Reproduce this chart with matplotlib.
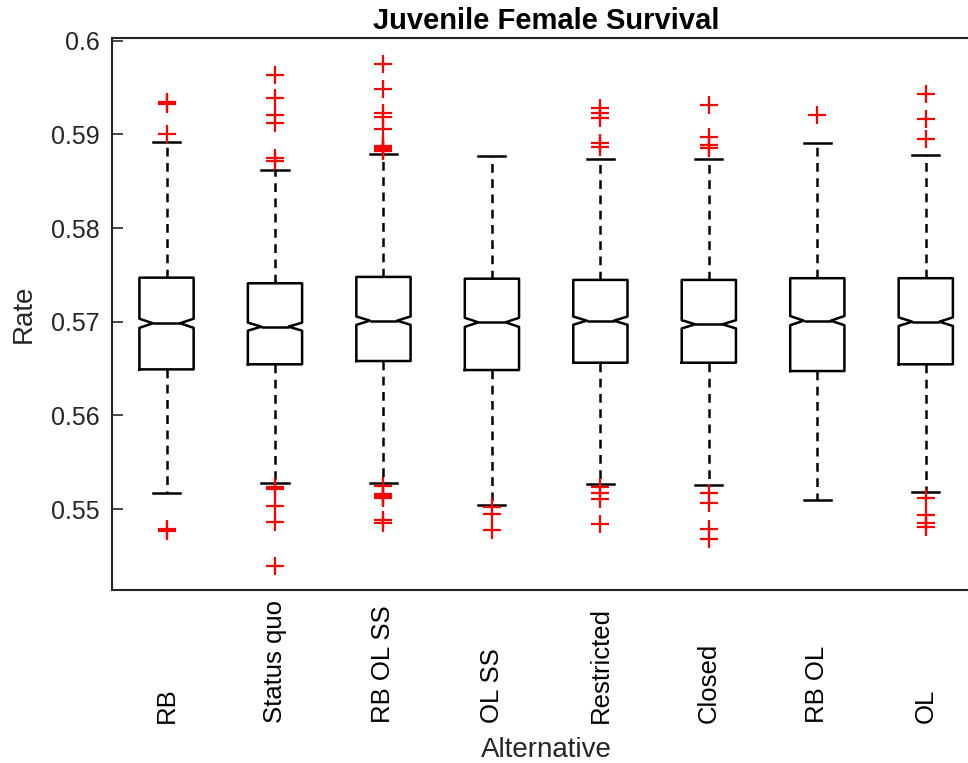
import matplotlib
matplotlib.use('Agg')
import matplotlib.pyplot as plt
import numpy as np

plt.rcParams['font.family'] = ['Liberation Sans', 'DejaVu Sans']

# simulated survival rate per alternative
alternatives = ['RB', 'Status quo', 'RB OL SS', 'OL SS', 'Restricted', 'Closed', 'RB OL', 'OL']
medians = [0.56983, 0.56947, 0.57011, 0.56993, 0.57011, 0.56972, 0.57011, 0.57000]
q1 = [0.56491, 0.56545, 0.56580, 0.56484, 0.56562, 0.56562, 0.56473, 0.56545]
q3 = [0.57470, 0.57410, 0.57478, 0.57459, 0.57446, 0.57446, 0.57464, 0.57464]
whisk_lo = [0.55167, 0.55274, 0.55277, 0.55038, 0.55266, 0.55252, 0.55095, 0.55177]
whisk_hi = [0.58920, 0.58621, 0.58788, 0.58770, 0.58735, 0.58738, 0.58906, 0.58784]
fliers = [
    [0.5934, 0.5932, 0.59005, 0.54785, 0.54767],
    [0.59628, 0.59387, 0.59208, 0.59120, 0.58746, 0.5872, 0.55237, 0.55213, 0.55034, 0.54857, 0.54393],
    [0.5975, 0.59489, 0.59226, 0.59184, 0.59056, 0.5888, 0.58865, 0.5885, 0.58835, 0.5882,
     0.55245, 0.5516, 0.5514, 0.5513, 0.5512, 0.54881, 0.54853],
    [0.55023, 0.54942, 0.54775],
    [0.59276, 0.59226, 0.59173, 0.58906, 0.5887, 0.55231, 0.55173, 0.55106, 0.54836],
    [0.59315, 0.58976, 0.58888, 0.58853, 0.55167, 0.55067, 0.54782, 0.54678],
    [0.59205],
    [0.5943, 0.59162, 0.58949, 0.5512, 0.54935, 0.54846, 0.5481],
]
n_runs = 1000

stats = []
for i in range(len(alternatives)):
    iqr = q3[i] - q1[i]
    half = 1.57 * iqr / np.sqrt(n_runs)
    stats.append(dict(med=medians[i], q1=q1[i], q3=q3[i],
                      whislo=whisk_lo[i], whishi=whisk_hi[i],
                      fliers=fliers[i], cilo=medians[i] - half, cihi=medians[i] + half,
                      label=alternatives[i]))

fig = plt.figure(figsize=(9.68, 7.63), dpi=100)
ax = fig.add_axes([0.116, 0.2267, 0.8964, 0.7231])

grey = '#262626'
lw = 1.8
ax.bxp(stats, positions=range(1, len(alternatives) + 1), widths=0.5, shownotches=True,
       boxprops=dict(color='black', linewidth=lw),
       medianprops=dict(color='black', linewidth=lw),
       whiskerprops=dict(color='black', linewidth=lw, linestyle=(0, (3.5, 2.6))),
       capprops=dict(color='black', linewidth=lw),
       flierprops=dict(marker='+', markeredgecolor='red', markersize=13,
                       markeredgewidth=1.6, linestyle='none'),
       manage_ticks=False)

ax.set_xlim(0.5, 8.5)
ax.set_ylim(0.541355, 0.60025)
ax.set_yticks([0.55, 0.56, 0.57, 0.58, 0.59, 0.6])
ax.set_yticklabels(['0.55', '0.56', '0.57', '0.58', '0.59', '0.6'])
ax.tick_params(axis='y', direction='in', length=8, width=1.2, color=grey,
               labelsize=18, labelcolor=grey, pad=9)

ax.set_xticks(range(1, len(alternatives) + 1))
ax.set_xticklabels(alternatives, rotation=90, fontsize=18.5, color='black')
ax.tick_params(axis='x', length=0, pad=96)
for lab in ax.get_xticklabels():
    lab.set_va('bottom')

for sp in ax.spines.values():
    sp.set_color(grey)
    sp.set_linewidth(1.5)

ax.set_title('Juvenile Female Survival', fontsize=21, fontweight='bold', pad=7)
ax.set_ylabel('Rate', fontsize=20, color=grey, labelpad=10)
ax.set_xlabel('Alternative', fontsize=20, color=grey, labelpad=10)

fig.savefig('out.png', dpi=100)
